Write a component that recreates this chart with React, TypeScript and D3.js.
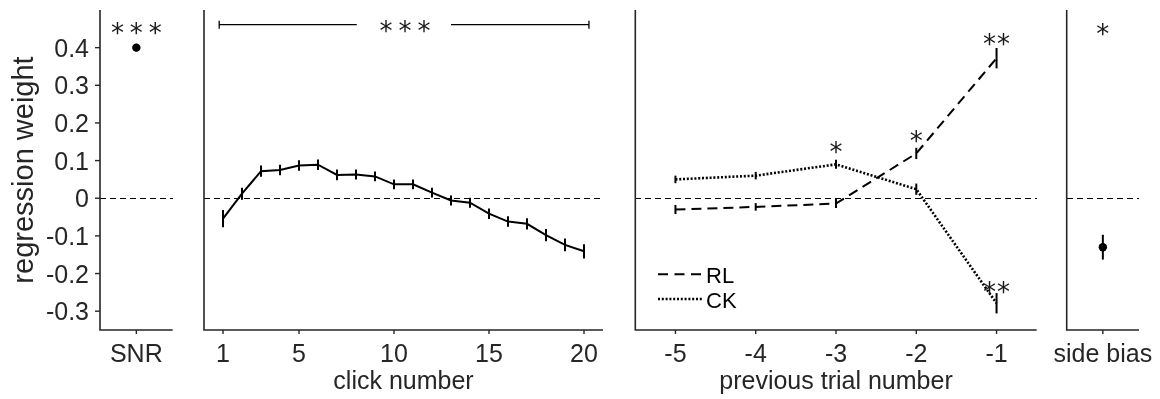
import * as d3 from 'd3';

// ---- data ----
const yTicks = [-0.3, -0.2, -0.1, 0, 0.1, 0.2, 0.3, 0.4];
const yTickLabels = ['-0.3', '-0.2', '-0.1', '0', '0.1', '0.2', '0.3', '0.4'];

const snrWeight = [0.4];
const snrErr = [0.01];

const clickNumbers = [1, 2, 3, 4, 5, 6, 7, 8, 9, 10, 11, 12, 13, 14, 15, 16, 17, 18, 19, 20];
const clickWeight = [
  -0.054, 0.012, 0.072, 0.075, 0.087, 0.089, 0.062, 0.063, 0.058, 0.037,
  0.037, 0.015, -0.006, -0.012, -0.041, -0.062, -0.068, -0.098, -0.124, -0.141,
];
const clickErr = [
  0.023, 0.016, 0.015, 0.014, 0.014, 0.014, 0.014, 0.013, 0.013, 0.013,
  0.013, 0.013, 0.013, 0.013, 0.014, 0.014, 0.015, 0.016, 0.017, 0.019,
];
const clickTicks = [1, 5, 10, 15, 20];
// significance bracket over all clicks: ends and the gap left for the stars
const clickBracket = [0.8, 20.26];
const clickBracketGap = [8.04, 13.0];

const prevTrials = [-5, -4, -3, -2, -1];
const rlWeight = [-0.03, -0.023, -0.014, 0.119, 0.372];
const rlErr = [0.012, 0.01, 0.012, 0.015, 0.027];
const ckWeight = [0.05, 0.06, 0.09, 0.024, -0.279];
const ckErr = [0.01, 0.01, 0.012, 0.015, 0.027];

const sideWeight = [-0.13];
const sideErr = [0.033];

// significance stars: [x, y, label]
const starsSnr: [number, number, string][] = [[0, 0.456, '* * *']];
const starsClick: [number, number, string][] = [[10.58, 0.461, '* * *']];
const starsPrev: [number, number, string][] = [
  [-3, 0.139, '*'],
  [-2, 0.168, '*'],
  [-1, 0.427, '**'],
  [-1, -0.232, '**'],
];
const starsSide: [number, number, string][] = [[0, 0.454, '*']];

// ---- layout ----
const W = 1160;
const H = 399;
const top = 10;
const bottom = 330;
const ink = '#262626';
const font = 'Liberation Sans, Arial, Helvetica, sans-serif';
const fs = 25;

const y = d3.scaleLinear().domain([-0.35, 0.5]).range([bottom, top]);

const xSnr = d3.scaleLinear().domain([-1, 1]).range([100, 172.7]);
const xClick = d3.scaleLinear().domain([0, 21]).range([204, 603]);
const xPrev = d3.scaleLinear().domain([-5.5, -0.5]).range([635.3, 1036.7]);
const xSide = d3.scaleLinear().domain([-1, 1]).range([1066.7, 1139]);

const Stars = ({ items, x }: { items: [number, number, string][]; x: d3.ScaleLinear<number, number> }) => (
  <g>
    {items.map(([sx, sy, s], i) => {
      const ls = s.includes(' ') ? -1.15 : 1;
      return (
        <text
          key={i}
          x={x(sx) + ls / 2}
          y={y(sy) + 15.2}
          textAnchor="middle"
          fontFamily="DejaVu Sans, sans-serif"
          fontSize={26}
          letterSpacing={ls}
          fill="#1a1a1a"
          style={{ whiteSpace: 'pre' }}
        >
          {s}
        </text>
      );
    })}
  </g>
);

const Frame = ({ x }: { x: d3.ScaleLinear<number, number> }) => {
  const [x0, x1] = x.range();
  return (
    <g>
      <line
        x1={x0}
        x2={x1}
        y1={y(0)}
        y2={y(0)}
        stroke="#000"
        strokeWidth={1}
        strokeDasharray="6,4"
        shapeRendering="crispEdges"
      />
      <path d={`M${x0},${top}V${bottom}H${x1}`} fill="none" stroke={ink} strokeWidth={1.6} />
    </g>
  );
};

const XTicks = ({ x, ticks, labels }: { x: d3.ScaleLinear<number, number>; ticks: number[]; labels: string[] }) => (
  <g>
    {ticks.map((t, i) => (
      <g key={i}>
        <line x1={x(t)} x2={x(t)} y1={bottom} y2={bottom + 4} stroke={ink} strokeWidth={1.4} />
        <text x={x(t)} y={bottom + 32} textAnchor="middle" fontFamily={font} fontSize={fs} fill={ink}>
          {labels[i]}
        </text>
      </g>
    ))}
  </g>
);

const ErrBars = ({ x, xs, ys, es }: { x: d3.ScaleLinear<number, number>; xs: number[]; ys: number[]; es: number[] }) => (
  <g>
    {xs.map((v, i) => (
      <line key={i} x1={x(v)} x2={x(v)} y1={y(ys[i] - es[i])} y2={y(ys[i] + es[i])} stroke="#000" strokeWidth={2} />
    ))}
  </g>
);

export default function App() {
  const clickLine = d3
    .line<number>()
    .x((_, i) => xClick(clickNumbers[i]))
    .y((d) => y(d));
  const prevLine = d3
    .line<number>()
    .x((_, i) => xPrev(prevTrials[i]))
    .y((d) => y(d));
  const by = y(starsClick[0][1]);

  return (
    <svg
      width={W}
      height={H}
      style={{ position: 'absolute', left: 0, top: 0, background: '#fff', willChange: 'transform' }}
    >
      {/* y axis label + ticks (panel 1 only) */}
      <text
        transform={`translate(33,${(top + bottom) / 2}) rotate(-90)`}
        textAnchor="middle"
        fontFamily={font}
        fontSize={29}
        fill={ink}
      >
        regression weight
      </text>
      {yTicks.map((t, i) => (
        <g key={t}>
          <line x1={95} x2={100} y1={y(t)} y2={y(t)} stroke={ink} strokeWidth={1.4} />
          <text x={89} y={y(t) + 9} textAnchor="end" fontFamily={font} fontSize={fs} fill={ink}>
            {yTickLabels[i]}
          </text>
        </g>
      ))}

      {/* panel 1: SNR */}
      <Frame x={xSnr} />
      <XTicks x={xSnr} ticks={[0]} labels={['SNR']} />
      <ErrBars x={xSnr} xs={[0]} ys={snrWeight} es={snrErr} />
      <circle cx={xSnr(0)} cy={y(snrWeight[0])} r={4.2} fill="#000" />
      <Stars items={starsSnr} x={xSnr} />

      {/* panel 2: click number */}
      <Frame x={xClick} />
      <XTicks x={xClick} ticks={clickTicks} labels={clickTicks.map(String)} />
      <text x={(xClick.range()[0] + xClick.range()[1]) / 2} y={389} textAnchor="middle" fontFamily={font} fontSize={fs} fill={ink}>
        click number
      </text>
      <path d={clickLine(clickWeight) || ''} fill="none" stroke="#000" strokeWidth={2} />
      <ErrBars x={xClick} xs={clickNumbers} ys={clickWeight} es={clickErr} />
      <g stroke="#000" strokeWidth={1.3}>
        <line x1={xClick(clickBracket[0])} x2={xClick(clickBracketGap[0])} y1={by} y2={by} />
        <line x1={xClick(clickBracketGap[1])} x2={xClick(clickBracket[1])} y1={by} y2={by} />
        <line x1={xClick(clickBracket[0])} x2={xClick(clickBracket[0])} y1={by - 4} y2={by + 4} />
        <line x1={xClick(clickBracket[1])} x2={xClick(clickBracket[1])} y1={by - 4} y2={by + 4} />
      </g>
      <Stars items={starsClick} x={xClick} />

      {/* panel 3: previous trial */}
      <Frame x={xPrev} />
      <XTicks x={xPrev} ticks={prevTrials} labels={prevTrials.map(String)} />
      <text x={(xPrev.range()[0] + xPrev.range()[1]) / 2} y={389} textAnchor="middle" fontFamily={font} fontSize={fs} fill={ink}>
        previous trial number
      </text>
      <path d={prevLine(rlWeight) || ''} fill="none" stroke="#000" strokeWidth={2} strokeDasharray="10,6" />
      <path d={prevLine(ckWeight) || ''} fill="none" stroke="#000" strokeWidth={2.6} strokeDasharray="2,1.8" />
      <ErrBars x={xPrev} xs={prevTrials} ys={rlWeight} es={rlErr} />
      <ErrBars x={xPrev} xs={prevTrials} ys={ckWeight} es={ckErr} />
      <Stars items={starsPrev} x={xPrev} />
      {/* legend */}
      <line x1={658} x2={702} y1={274.3} y2={274.3} stroke="#000" strokeWidth={2} strokeDasharray="10,6.5" />
      <line x1={658} x2={702} y1={299} y2={299} stroke="#000" strokeWidth={2.6} strokeDasharray="2,1.8" />
      <text x={706} y={282.5} fontFamily={font} fontSize={22} fill="#000">RL</text>
      <text x={706} y={307.5} fontFamily={font} fontSize={22} fill="#000">CK</text>

      {/* panel 4: side bias */}
      <Frame x={xSide} />
      <XTicks x={xSide} ticks={[0]} labels={['side bias']} />
      <ErrBars x={xSide} xs={[0]} ys={sideWeight} es={sideErr} />
      <circle cx={xSide(0)} cy={y(sideWeight[0])} r={4.2} fill="#000" />
      <Stars items={starsSide} x={xSide} />
    </svg>
  );
}
